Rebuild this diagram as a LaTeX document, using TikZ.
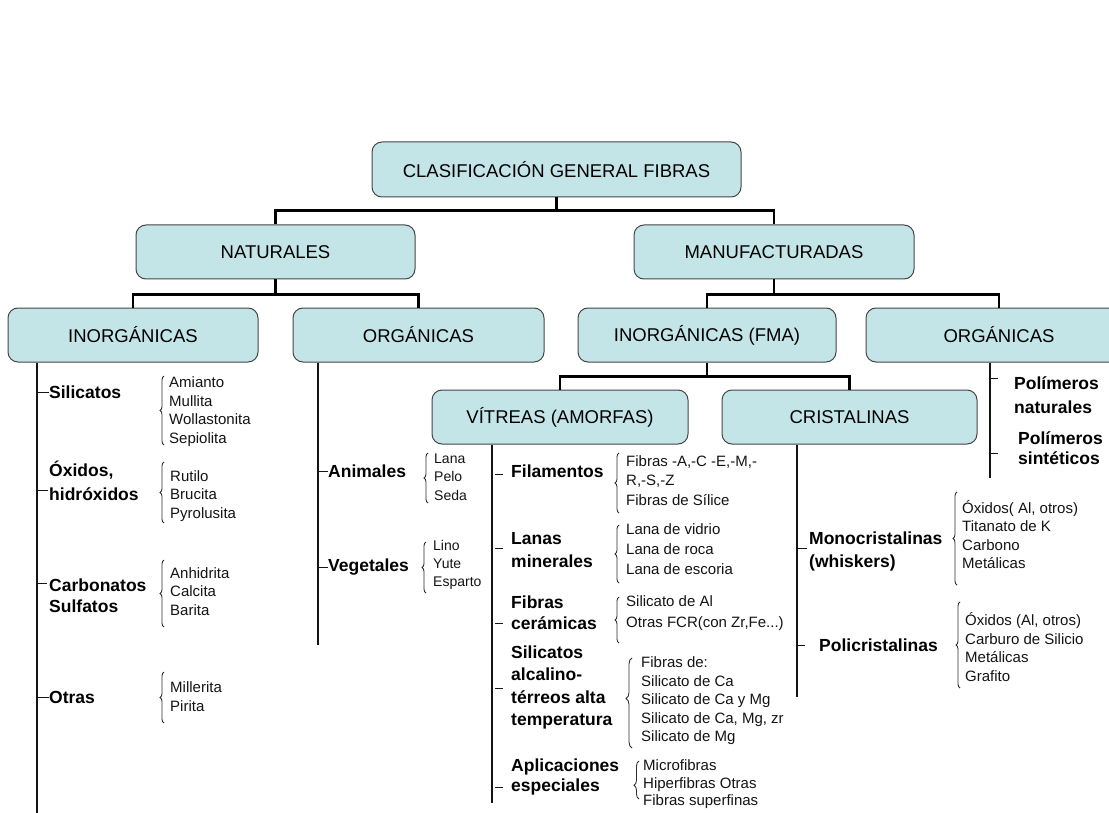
\documentclass[tikz,border=0pt]{standalone}
\usepackage{fontspec}
\setmainfont{Liberation Sans}
\usetikzlibrary{decorations.pathreplacing,calc}
\definecolor{boxfill}{RGB}{196,229,232}
\definecolor{boxline}{RGB}{70,70,70}
\definecolor{ink}{RGB}{20,20,20}
\begin{document}
\begin{tikzpicture}[x=1pt,y=-1pt,
  box/.style={draw=boxline, fill=boxfill, rounded corners=10pt, line width=1pt, font=\fontsize{18.5}{22}\selectfont, inner sep=0pt, minimum height=54pt},
  conn/.style={line width=2.8pt, black, line join=miter},
  col/.style={line width=1.2pt, ink},
  tk/.style={line width=1pt, ink},
  lab/.style={font=\bfseries\fontsize{17.5}{23}\selectfont, anchor=west, align=left, inner sep=0pt},
  itm/.style={font=\fontsize{15}{18.5}\selectfont, anchor=west, align=left, inner sep=0pt, text=ink},
  brc/.style={decorate, decoration={brace, amplitude=4pt}, line width=0.85pt, draw=ink!90},
]
\useasboundingbox (0,0) rectangle (1109,813);
\fill[white] (0,0) rectangle (1109,813);

% boxes
\node[box, minimum width=369pt, minimum height=55pt] (root) at (556.5,169.5) {CLASIFICACIÓN GENERAL FIBRAS};
\node[box, minimum width=279pt] (nat) at (275.5,252) {NATURALES};
\node[box, minimum width=280pt] (man) at (774,252) {MANUFACTURADAS};
\node[box, minimum width=250pt] (inorg) at (133,335) {INORGÁNICAS};
\node[box, minimum width=251pt] (orgn) at (418.5,335) {ORGÁNICAS};
\node[box, minimum width=258pt] (fma) at (707,335) {INORGÁNICAS (FMA)};
\node[box, minimum width=266pt] (orgm) at (999,335) {ORGÁNICAS};
\node[box, minimum width=256pt] (vit) at (560,417) {VÍTREAS (AMORFAS)};
\node[box, minimum width=255pt] (cri) at (849.5,417) {CRISTALINAS};

% tree connectors
\draw[conn] (root.south) -- ++(0,13) coordinate (j1);
\draw[conn] (nat.north) |- (j1) -| (man.north);
\draw[conn] (nat.south) -- ++(0,15) coordinate (j2);
\draw[conn] (inorg.north) |- (j2) -| (orgn.north);
\draw[conn] (man.south) -- ++(0,15) coordinate (j3);
\draw[conn] (fma.north) |- (j3) -| (orgm.north);
\draw[conn] (fma.south) -- ++(0,14) coordinate (j4);
\draw[conn] (vit.north) |- (j4) -| (cri.north);

% column lines
\coordinate (b1) at (37,813);
\draw[col] (b1 |- inorg.south) -- (b1);
\coordinate (b2) at (318,645);
\draw[col] (b2 |- orgn.south) -- (b2);
\coordinate (b3) at (492,803);
\draw[col] (b3 |- vit.south) -- (b3);
\coordinate (b4) at (797,697);
\draw[col] (b4 |- cri.south) -- (b4);
\coordinate (b5) at (990,478);
\draw[col] (b5 |- orgm.south) -- (b5);

% ---- Naturales / Inorganicas
\node[lab] (sil) at (49,392) {Silicatos};
\draw[tk] (b1 |- sil.west) -- (sil.west);
\node[itm] (silI) at (169,411.5) {Amianto\\Mullita\\Wollastonita\\Sepiolita};
\draw[brc] (164,445) -- (164,376);

\node[lab, font=\bfseries\fontsize{17.5}{24}\selectfont] (oxi) at (49,481) {Óxidos,\\hidróxidos};
\draw[tk] (37,490) -- (48,490);
\node[itm] (oxiI) at (170,496) {Rutilo\\Brucita\\Pyrolusita};
\draw[brc] (164,523) -- (164,462);

\node[lab, font=\bfseries\fontsize{17.5}{21}\selectfont] (car) at (49,595.5) {Carbonatos\\Sulfatos};
\draw[tk] (37,583) -- (47,583);
\node[itm] (carI) at (170,591.5) {Anhidrita\\Calcita\\Barita};
\draw[brc] (164,627) -- (164,560);

\node[lab] (otr) at (49,697) {Otras};
\draw[tk] (b1 |- otr.west) -- (otr.west);
\node[itm, font=\fontsize{15}{19}\selectfont] (otrI) at (170,696.5) {Millerita\\Pirita};
\draw[brc] (164,723) -- (164,672);

% ---- Naturales / Organicas
\node[lab] (ani) at (328,471) {Animales};
\draw[tk] (b2 |- ani.west) -- (ani.west);
\node[itm, font=\fontsize{14}{18.5}\selectfont] (aniI) at (434,477) {Lana\\Pelo\\Seda};
\draw[brc] (428,503) -- (428,453);

\node[lab] (veg) at (328,567) {Vegetales};
\draw[tk] (b2 |- veg.west) -- (veg.west);
\node[itm, font=\fontsize{14}{18}\selectfont] (vegI) at (433,565) {Lino\\Yute\\Esparto};
\draw[brc] (426,593) -- (426,542);

% ---- Vitreas
\node[lab] (fil) at (511,471) {Filamentos};
\draw[tk] (495,474) -- (503,474);
\node[itm, font=\fontsize{15}{19.5}\selectfont] (filI) at (626,480.5) {Fibras -A,-C -E,-M,-\\R,-S,-Z\\Fibras de Sílice};
\draw[brc] (619,513) -- (619,453);

\node[lab, font=\bfseries\fontsize{17.5}{23}\selectfont] (lan) at (511,550.5) {Lanas\\minerales};
\draw[tk] (495,548) -- (503,548);
\node[itm, font=\fontsize{15}{20}\selectfont] (lanI) at (626,549) {Lana de vidrio\\Lana de roca\\Lana de escoria};
\draw[brc] (619,583) -- (619,525);

\node[lab, font=\bfseries\fontsize{17.5}{21}\selectfont] (cer) at (511,612.5) {Fibras\\cerámicas};
\draw[tk] (495,623) -- (503,623);
\node[itm, font=\fontsize{15}{21}\selectfont] (cerI) at (626,613.5) {Silicato de Al\\Otras FCR(con Zr,Fe...)};
\draw[brc] (619,643) -- (619,597);

\node[lab, font=\bfseries\fontsize{17.5}{22.3}\selectfont] (alc) at (511,687.5) {Silicatos\\alcalino-\\térreos alta\\temperatura};
\draw[tk] (495,688) -- (503,688);
\node[itm, font=\fontsize{15}{18.5}\selectfont] (alcI) at (641,701) {Fibras de:\\Silicato de Ca\\Silicato de Ca y Mg\\Silicato de Ca, Mg, zr\\Silicato de Mg};
\draw[brc, decoration={brace, amplitude=6pt, aspect=0.55}] (632,748) -- (632,658);

\node[lab, font=\bfseries\fontsize{17.5}{20}\selectfont] (apl) at (511,777) {Aplicaciones\\especiales};
\draw[tk] (495,787) -- (503,787);
\node[itm, font=\fontsize{15}{17.5}\selectfont] (aplI) at (643,784.5) {Microfibras\\Hiperfibras Otras\\Fibras superfinas};
\draw[brc, decoration={brace, amplitude=5pt, aspect=0.36}] (639,799) -- (639,761);

% ---- Cristalinas
\node[lab, font=\bfseries\fontsize{17.5}{23}\selectfont] (mon) at (809,551.5) {Monocristalinas\\(whiskers)};
\draw[tk] (797,548) -- (807,548);
\node[itm, font=\fontsize{15}{18.3}\selectfont] (monI) at (962,534.5) {Óxidos( Al, otros)\\Titanato de K\\Carbono\\Metálicas};
\draw[brc] (957,585) -- (957,492);

\node[lab] (pol) at (819,645) {Policristalinas};
\draw[tk] (797,645) -- (805,645);
\node[itm, font=\fontsize{15}{18.7}\selectfont] (polI) at (965,647) {Óxidos (Al, otros)\\Carburo de Silicio\\Metálicas\\Grafito};
\draw[brc] (960,688) -- (960,602);

% ---- Manufacturadas / Organicas
\node[lab, font=\bfseries\fontsize{17.5}{24}\selectfont] (pn) at (1014,395) {Polímeros\\naturales};
\draw[tk] (990,378) -- (998,378);
\node[lab, font=\bfseries\fontsize{17.5}{20}\selectfont] (ps) at (1018,448) {Polímeros\\sintéticos};
\draw[tk] (990,453) -- (998,453);
\end{tikzpicture}
\end{document}
